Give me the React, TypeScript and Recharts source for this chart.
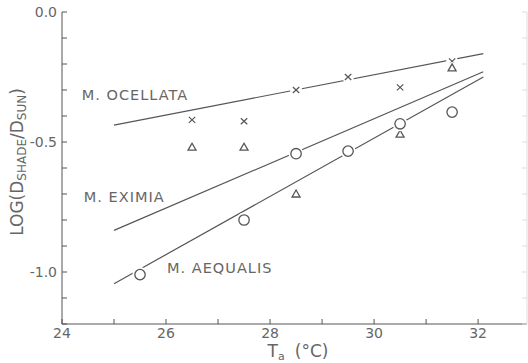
import React from 'react';
import { ComposedChart, Line, Scatter, XAxis, YAxis, ReferenceDot, Label } from 'recharts';

// air temperature (°C) and log(D shade / D sun) per species
const ocellataT = [26.5, 27.5, 28.5, 29.5, 30.5, 31.5];
const ocellataLog = [-0.415, -0.42, -0.3, -0.25, -0.29, -0.19];
const eximiaT = [26.5, 27.5, 28.5, 30.5, 31.5];
const eximiaLog = [-0.52, -0.52, -0.7, -0.47, -0.215];
const aequalisT = [25.5, 27.5, 28.5, 29.5, 30.5, 31.5];
const aequalisLog = [-1.01, -0.8, -0.545, -0.535, -0.43, -0.385];

// fitted regression lines (end points)
const fitT = [25, 32.1];
const ocellataFit = [-0.435, -0.16];
const eximiaFit = [-0.84, -0.23];
const aequalisFit = [-1.045, -0.25];

const xTicks = [24, 25, 26, 27, 28, 29, 30, 31, 32];
const xLabels = [24, 26, 28, 30, 32];
const yTicks = [0, -0.1, -0.2, -0.3, -0.4, -0.5, -0.6, -0.7, -0.8, -0.9, -1.0, -1.1, -1.2];
const yLabels = [0, -0.5, -1.0];

const species = [
  { name: 'M. OCELLATA', t: 24.38, log: -0.32 },
  { name: 'M. EXIMIA', t: 24.42, log: -0.71 },
  { name: 'M. AEQUALIS', t: 26.02, log: -0.985 },
];

const zip = (t: number[], v: number[]) => t.map((x, i) => ({ x, y: v[i] }));

const INK = '#555';
const TEXT = '#666';
const FONT = '"DejaVu Sans", sans-serif';

const Cross = ({ cx, cy }: any) => (
  <g>
    <circle cx={cx} cy={cy} r={6} fill="#fff" />
    <path d={`M${cx - 3.2} ${cy - 3}L${cx + 3.2} ${cy + 3}M${cx + 3.2} ${cy - 3}L${cx - 3.2} ${cy + 3}`} stroke={INK} strokeWidth={1.2} />
  </g>
);

const Tri = ({ cx, cy }: any) => (
  <g>
    <circle cx={cx} cy={cy} r={6} fill="#fff" />
    <path d={`M${cx} ${cy - 4}L${cx + 4} ${cy + 3}L${cx - 4} ${cy + 3}Z`} fill="none" stroke={INK} strokeWidth={1.3} />
  </g>
);

const Ring = ({ cx, cy }: any) => (
  <g>
    <circle cx={cx} cy={cy} r={7.5} fill="#fff" />
    <circle cx={cx} cy={cy} r={5.2} fill="none" stroke={INK} strokeWidth={1.3} />
  </g>
);

const fmtY = (v: number) => (yLabels.some(l => Math.abs(l - v) < 1e-6) ? v.toFixed(1) : '');
const fmtX = (v: number) => (xLabels.includes(v) ? String(v) : '');

export default function App() {
  return (
    <div style={{ position: 'absolute', left: 0, top: 0, background: '#fff' }}>
      <ComposedChart width={528} height={363} margin={{ top: 12, right: 0, bottom: 0, left: 0 }}>
        <XAxis
          xAxisId="b"
          type="number"
          dataKey="x"
          domain={[24, 32.94]}
          ticks={xTicks}
          tickFormatter={fmtX}
          height={39}
          tickSize={-5}
          tickMargin={9}
          stroke={INK}
          tick={{ fill: TEXT, fontSize: 14, fontFamily: FONT }}
          allowDataOverflow
        >
          <Label
            content={() => (
              <text x={298} y={357} textAnchor="middle" fill={TEXT} fontSize={17} fontFamily={FONT}>
                T<tspan fontSize={11} dy={3}>a</tspan>
                <tspan dy={-3} dx={10}>(°C)</tspan>
              </text>
            )}
          />
        </XAxis>
        <XAxis
          xAxisId="t"
          orientation="top"
          type="number"
          domain={[24, 32.94]}
          ticks={xTicks}
          tickFormatter={() => ''}
          height={0}
          tickSize={-5}
          stroke={INK}
          allowDataOverflow
        />
        <YAxis
          yAxisId="l"
          type="number"
          domain={[-1.2, 0]}
          ticks={yTicks}
          tickFormatter={fmtY}
          width={62}
          tickSize={-5}
          tickMargin={10}
          stroke={INK}
          tick={{ fill: TEXT, fontSize: 14, fontFamily: FONT }}
          allowDataOverflow
        >
          <Label
            content={() => (
              <text x={23} y={162} transform="rotate(-90 23 162)" textAnchor="middle" fill={TEXT} fontSize={17} fontFamily={FONT}>
                LOG(D<tspan fontSize={12} dy={3}>SHADE</tspan>
                <tspan dy={-3}>/D</tspan>
                <tspan fontSize={12} dy={3}>SUN</tspan>
                <tspan dy={-3}>)</tspan>
              </text>
            )}
          />
        </YAxis>
        <YAxis
          yAxisId="r"
          orientation="right"
          type="number"
          domain={[-1.2, 0]}
          ticks={yTicks}
          tickFormatter={() => ''}
          width={1}
          tickSize={-5}
          stroke="#ddd"
          allowDataOverflow
        />

        <Line xAxisId="b" yAxisId="l" data={zip(fitT, ocellataFit)} dataKey="y" type="linear" stroke={INK} strokeWidth={1.2} dot={false} isAnimationActive={false} />
        <Line xAxisId="b" yAxisId="l" data={zip(fitT, eximiaFit)} dataKey="y" type="linear" stroke={INK} strokeWidth={1.2} dot={false} isAnimationActive={false} />
        <Line xAxisId="b" yAxisId="l" data={zip(fitT, aequalisFit)} dataKey="y" type="linear" stroke={INK} strokeWidth={1.2} dot={false} isAnimationActive={false} />

        <Scatter xAxisId="b" yAxisId="l" data={zip(ocellataT, ocellataLog)} dataKey="y" shape={Cross} isAnimationActive={false} />
        <Scatter xAxisId="b" yAxisId="l" data={zip(eximiaT, eximiaLog)} dataKey="y" shape={Tri} isAnimationActive={false} />
        <Scatter xAxisId="b" yAxisId="l" data={zip(aequalisT, aequalisLog)} dataKey="y" shape={Ring} isAnimationActive={false} />

        {species.map(s => (
          <ReferenceDot
            key={s.name}
            xAxisId="b"
            yAxisId="l"
            x={s.t}
            y={s.log}
            r={0}
            stroke="none"
            label={{ value: s.name, position: 'right', offset: 0, fill: TEXT, fontSize: 14.5, fontFamily: FONT, letterSpacing: 1 }}
          />
        ))}
      </ComposedChart>
    </div>
  );
}
